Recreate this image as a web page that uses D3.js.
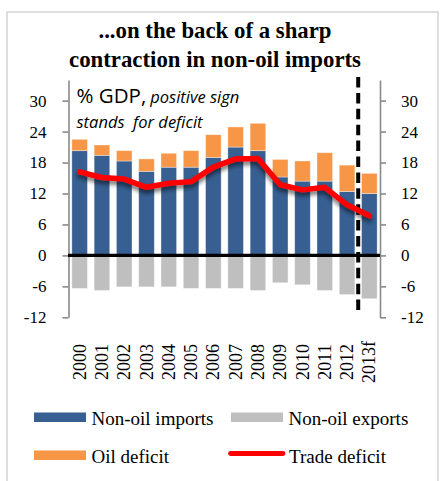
<!DOCTYPE html>
<html>
<head>
<meta charset="utf-8">
<script src="https://cdn.jsdelivr.net/npm/d3@7"></script>
<style>
  html, body { margin: 0; padding: 0; background: #fff; }
  svg { display: block; }
</style>
</head>
<body>
<svg id="chart" width="440" height="481"></svg>
<script>
// Years on the category axis
const years = ["2000","2001","2002","2003","2004","2005","2006","2007","2008","2009","2010","2011","2012","2013f"];
// % of GDP
const nonOilImports = [20.3, 19.4, 18.3, 16.3, 17.1, 17.1, 19.0, 21.0, 20.3, 15.2, 14.4, 14.4, 12.4, 12.0];
const oilDeficit    = [2.2, 2.0, 2.0, 2.4, 2.7, 3.2, 4.4, 3.9, 5.3, 3.4, 3.9, 5.5, 5.1, 3.9];
const nonOilExports = [-6.4, -6.8, -6.1, -6.1, -6.1, -6.4, -6.4, -6.4, -6.8, -5.3, -5.7, -6.8, -7.6, -8.4];
const tradeDeficit  = [16.2, 15.1, 14.8, 13.2, 14.0, 14.3, 17.1, 18.7, 18.8, 13.7, 12.7, 13.2, 9.8, 7.7];
const yTicks = [-12, -6, 0, 6, 12, 18, 24, 30];
const forecastStart = "2013f";

const titleLines = ["...on the back of a sharp", "contraction in non-oil imports"];
const legendItems = [
  { label: "Non-oil imports", kind: "rect", color: "#375F91" },
  { label: "Non-oil exports", kind: "rect", color: "#BFBFBF" },
  { label: "Oil deficit", kind: "rect", color: "#F79646" },
  { label: "Trade deficit", kind: "line", color: "#FF0000" }
];

const serif = "'Liberation Serif', 'Times New Roman', serif";
const sans = "'Open Sans', 'Noto Sans', sans-serif";

const svg = d3.select("#chart");

// shadow under the trade-deficit line
const defs = svg.append("defs");
const f = defs.append("filter").attr("id", "lineShadow")
  .attr("x", "-10%").attr("y", "-20%").attr("width", "120%").attr("height", "160%");
f.append("feDropShadow").attr("dx", 0).attr("dy", 3.5).attr("stdDeviation", 2)
  .attr("flood-color", "#000").attr("flood-opacity", 0.55);

// outer frame
svg.append("rect").attr("x", 7).attr("y", 12).attr("width", 431).attr("height", 480)
  .attr("fill", "none").attr("stroke", "#d4d4d4").attr("stroke-width", 1.5);

// title
svg.append("g").selectAll("text").data(titleLines).join("text")
  .attr("x", 215).attr("y", (d, i) => 37.5 + i * 29)
  .attr("text-anchor", "middle")
  .style("font-family", serif).style("font-weight", "bold").style("font-size", "22.8px")
  .attr("fill", "#000").text(d => d);

const x = d3.scaleBand().domain(years).range([68.5, 380.5]).paddingInner(0.3).paddingOuter(0.15);
const y = d3.scaleLinear().domain([-12, 34]).range([317.3, 80]);

const data = years.map((yr, i) => ({
  year: yr, imp: nonOilImports[i], oil: oilDeficit[i], exp: nonOilExports[i], trade: tradeDeficit[i]
}));

const bars = svg.append("g");
// non-oil exports (negative)
bars.selectAll("rect.exp").data(data).join("rect").attr("class", "exp")
  .attr("x", d => x(d.year)).attr("width", x.bandwidth())
  .attr("y", y(0)).attr("height", d => y(d.exp) - y(0))
  .attr("fill", "#BFBFBF");
// non-oil imports
bars.selectAll("rect.imp").data(data).join("rect").attr("class", "imp")
  .attr("x", d => x(d.year)).attr("width", x.bandwidth())
  .attr("y", d => y(d.imp)).attr("height", d => y(0) - y(d.imp))
  .attr("fill", "#375F91");
// oil deficit stacked on imports
bars.selectAll("rect.oil").data(data).join("rect").attr("class", "oil")
  .attr("x", d => x(d.year)).attr("width", x.bandwidth())
  .attr("y", d => y(d.imp + d.oil)).attr("height", d => y(d.imp) - y(d.imp + d.oil))
  .attr("fill", "#F79646");
// thin light edges on the bars
bars.selectAll("rect").attr("stroke", "#ffffff").attr("stroke-opacity", 0.45).attr("stroke-width", 0.8);

// axes
const axisColor = "#8a8a8a";
const left = svg.append("g").attr("transform", "translate(68.5,0)")
  .call(d3.axisLeft(y).tickValues(yTicks).tickSize(6).tickSizeOuter(0).tickPadding(16).tickFormat(d3.format("d")));
const right = svg.append("g").attr("transform", "translate(380,0)")
  .call(d3.axisRight(y).tickValues(yTicks).tickSize(6).tickSizeOuter(0).tickPadding(15).tickFormat(d3.format("d")));
[left, right].forEach(g => {
  g.select(".domain").attr("stroke", axisColor).attr("stroke-width", 1.6);
  g.selectAll(".tick line").attr("stroke", axisColor).attr("stroke-width", 1.6);
  g.selectAll(".tick text").style("font-family", serif).style("font-size", "17px").attr("fill", "#000");
});
left.selectAll(".tick text").text(d => d < 0 ? "-" + Math.abs(d) : d);
right.selectAll(".tick text").text(d => d < 0 ? "-" + Math.abs(d) : d);

// zero line
svg.append("line").attr("x1", 68).attr("x2", 380).attr("y1", y(0)).attr("y2", y(0))
  .attr("stroke", "#000").attr("stroke-width", 3.2);

// forecast divider
const divX = x(forecastStart) - x.step() * x.paddingInner() / 2;
svg.append("line").attr("x1", divX).attr("x2", divX).attr("y1", 77).attr("y2", 310)
  .attr("stroke", "#000").attr("stroke-width", 4).attr("stroke-dasharray", "10.5,5.4");

// trade deficit line
const line = d3.line().x(d => x(d.year) + x.bandwidth() / 2).y(d => y(d.trade));
svg.append("path").datum(data).attr("d", line)
  .attr("fill", "none").attr("stroke", "#FF0000").attr("stroke-width", 5.5)
  .attr("stroke-linejoin", "round").attr("stroke-linecap", "round")
  .attr("filter", "url(#lineShadow)");

// note inside the plot
const note = svg.append("g").style("font-family", sans).attr("fill", "#000");
const n1 = note.append("text").attr("x", 76.5).attr("y", 103);
n1.append("tspan").style("font-size", "20.5px").text("% GDP,");
n1.append("tspan").style("font-size", "16.5px").style("font-style", "italic").attr("dx", 4).text("positive sign");
note.append("text").attr("x", 76.5).attr("y", 127.5)
  .style("font-size", "16.5px").style("font-style", "italic")
  .attr("xml:space", "preserve").text("stands  for deficit");

// category labels, rotated
svg.append("g").selectAll("text").data(years).join("text")
  .attr("transform", d => `translate(${x(d) + x.bandwidth() / 2 + 6},362) rotate(-90)`)
  .attr("text-anchor", "middle")
  .style("font-family", serif).style("font-size", "18px").attr("fill", "#000")
  .text(d => d);

// legend
const legPos = [
  { sx: 34, tx: 91.5, y: 425 },
  { sx: 231, tx: 288.5, y: 425 },
  { sx: 34, tx: 91.5, y: 463 },
  { sx: 229, tx: 289, y: 463 }
];
const leg = svg.append("g");
legendItems.forEach((it, i) => {
  const p = legPos[i];
  if (it.kind === "rect") {
    leg.append("rect").attr("x", p.sx).attr("y", p.y - 12.5).attr("width", 52).attr("height", 9.5).attr("fill", it.color);
  } else {
    leg.append("line").attr("x1", p.sx + 1.5).attr("x2", p.sx + 54).attr("y1", p.y - 9.5).attr("y2", p.y - 9.5)
      .attr("stroke", it.color).attr("stroke-width", 4.8).attr("stroke-linecap", "round");
  }
  leg.append("text").attr("x", p.tx).attr("y", p.y)
    .style("font-family", serif).style("font-size", "19px").attr("fill", "#000").text(it.label);
});
</script>
</body>
</html>
